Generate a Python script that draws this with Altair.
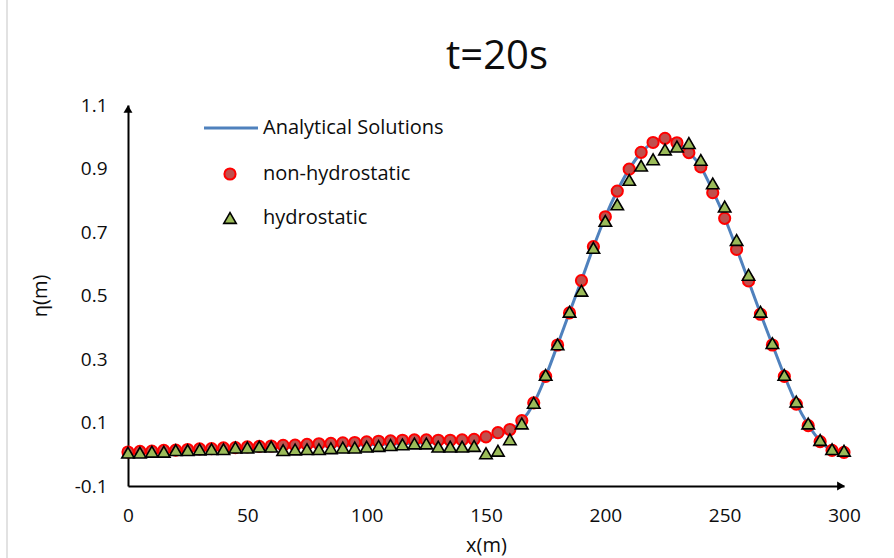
import altair as alt
import pandas as pd

# ---- data ----
x_pts = [0, 5, 10, 15, 20, 25, 30, 35, 40, 45, 50, 55, 60, 65, 70, 75, 80, 85, 90, 95,
         100, 105, 110, 115, 120, 125, 130, 135, 140, 145, 150, 155, 160, 165, 170, 175,
         180, 185, 190, 195, 200, 205, 210, 215, 220, 225, 230, 235, 240, 245, 250, 255,
         260, 265, 270, 275, 280, 285, 290, 295, 300]

non_hydro = [0.007, 0.009, 0.010, 0.012, 0.013, 0.015, 0.017, 0.018, 0.020, 0.021,
             0.023, 0.025, 0.026, 0.028, 0.029, 0.031, 0.033, 0.034, 0.036, 0.037,
             0.039, 0.041, 0.042, 0.044, 0.045, 0.045, 0.044, 0.044, 0.045, 0.047,
             0.055, 0.068, 0.078, 0.106, 0.162, 0.245, 0.344, 0.445, 0.547, 0.654,
             0.748, 0.829, 0.898, 0.951, 0.982, 0.995, 0.981, 0.950, 0.905, 0.824,
             0.743, 0.645, 0.546, 0.441, 0.344, 0.245, 0.158, 0.090, 0.040, 0.012,
             0.006]

hydro = [0.005, 0.005, 0.008, 0.008, 0.013, 0.013, 0.015, 0.016, 0.016, 0.021,
         0.021, 0.024, 0.024, 0.013, 0.015, 0.016, 0.016, 0.019, 0.021, 0.021,
         0.024, 0.026, 0.029, 0.031, 0.034, 0.034, 0.024, 0.024, 0.024, 0.026,
         0.003, 0.011, 0.047, 0.097, 0.162, 0.250, 0.346, 0.449, 0.515, 0.650,
         0.735, 0.787, 0.864, 0.909, 0.929, 0.960, 0.969, 0.980, 0.927, 0.853,
         0.780, 0.675, 0.565, 0.449, 0.350, 0.250, 0.166, 0.097, 0.045, 0.016,
         0.011]

x_line = [0, 20, 40, 60, 80, 100, 120, 140, 150, 155, 160, 165, 170, 175, 180, 185,
          190, 195, 200, 205, 210, 215, 220, 225, 230, 235, 240, 245, 250, 255, 260,
          265, 270, 275, 280, 285, 290, 295, 300]
analytical = [0.005, 0.010, 0.015, 0.020, 0.025, 0.030, 0.035, 0.040, 0.048, 0.060,
              0.075, 0.105, 0.160, 0.245, 0.345, 0.447, 0.548, 0.652, 0.748, 0.830,
              0.898, 0.950, 0.982, 0.995, 0.983, 0.952, 0.905, 0.830, 0.745, 0.648,
              0.546, 0.443, 0.345, 0.248, 0.160, 0.093, 0.042, 0.013, 0.005]

x_ticks = [0, 50, 100, 150, 200, 250, 300]
y_ticks = [-0.1, 0.1, 0.3, 0.5, 0.7, 0.9, 1.1]
legend_labels = ["Analytical Solutions", "non-hydrostatic", "hydrostatic"]
chart_title = "t=20s"

FONT = "Open Sans"
TXT = "#0d0d0d"
W, H = 716, 381

pts = pd.DataFrame({"x": x_pts, "nh": non_hydro, "h": hydro})
line_df = pd.DataFrame({"x": x_line, "y": analytical})

xs = alt.Scale(domain=[0, 300], nice=False, zero=False)
ys = alt.Scale(domain=[-0.1, 1.1], nice=False, zero=False)

x_axis = alt.Axis(values=x_ticks, format="d", grid=False, ticks=False,
                  labelFlush=False,
                  domainColor="black", domainWidth=2, labelFontSize=19,
                  labelPadding=20, labelColor=TXT, labelFont=FONT,
                  title="x(m)", titleFont=FONT, titleFontSize=20,
                  titleFontWeight="normal", titleColor=TXT,
                  titleX=W / 2, titleY=59, titleBaseline="middle", titleAlign="center")
y_axis = alt.Axis(values=y_ticks, grid=False, ticks=False,
                  labelFlush=False,
                  labelExpr="replace(format(datum.value, '.1f'), '\u2212', '-')",
                  domainColor="black", domainWidth=2, labelFontSize=19,
                  labelPadding=21, labelColor=TXT, labelFont=FONT,
                  labelBaseline="middle",
                  title="η(m)", titleFont=FONT, titleFontSize=20,
                  titleFontWeight="normal", titleColor=TXT,
                  titleX=-88, titleY=H / 2, titleAngle=-90,
                  titleBaseline="middle", titleAlign="center")

line = alt.Chart(line_df).mark_line(color="#4F81BD", strokeWidth=3,
                                    interpolate="monotone").encode(
    x=alt.X("x:Q", scale=xs, axis=x_axis),
    y=alt.Y("y:Q", scale=ys, axis=y_axis),
)

circles = alt.Chart(pts).mark_point(shape="circle", filled=True, size=125,
                                    fill="#C0504D", stroke="#FF0000",
                                    strokeWidth=2, opacity=1).encode(
    x=alt.X("x:Q", scale=xs), y=alt.Y("nh:Q", scale=ys))

tris = alt.Chart(pts).mark_point(shape="triangle-up", filled=True, size=155,
                                 fill="#9BBB59", stroke="black",
                                 strokeWidth=1.6, opacity=1).encode(
    x=alt.X("x:Q", scale=xs), y=alt.Y("h:Q", scale=ys))

# axis arrowheads
arrow_df = pd.DataFrame({"x": [0], "y": [1.1], "x2": [300], "y2": [-0.1]})
arrow_up = alt.Chart(arrow_df).mark_point(shape="triangle-up", filled=True,
                                          size=80, color="black", opacity=1,
                                          yOffset=4).encode(
    x=alt.X("x:Q", scale=xs), y=alt.Y("y:Q", scale=ys))
arrow_right = alt.Chart(arrow_df).mark_point(shape="triangle-right", filled=True,
                                             size=80, color="black", opacity=1,
                                             xOffset=-3).encode(
    x=alt.X("x2:Q", scale=xs), y=alt.Y("y2:Q", scale=ys))

# outer frame line on the left (as in the reference picture)
frame = alt.Chart(pd.DataFrame({"a": [0]})).mark_rule(color="#d9d9d9", strokeWidth=1.5).encode(
    x=alt.value(-121), y=alt.value(-105), y2=alt.value(H + 72))

# chart title as a text mark above the plot
title_mark = alt.Chart(pd.DataFrame({"t": [chart_title]})).mark_text(
    align="center", baseline="alphabetic", font=FONT, fontSize=40, color=TXT
).encode(x=alt.value(W / 2 + 11), y=alt.value(-36), text="t:N")

# manual legend (pixel positions inside the plot area)
leg_rows_y = [23, 69, 113]
leg_texts = [
    alt.Chart(pd.DataFrame({"t": [lab]})).mark_text(
        align="left", baseline="middle", font=FONT, fontSize=20, color=TXT
    ).encode(x=alt.value(135), y=alt.value(yy), text="t:N")
    for lab, yy in zip(legend_labels, leg_rows_y)
]
leg_line = alt.Chart(pd.DataFrame({"a": [0]})).mark_rule(color="#4F81BD", strokeWidth=3).encode(
    x=alt.value(76), x2=alt.value(130), y=alt.value(leg_rows_y[0]))
leg_circle = alt.Chart(pd.DataFrame({"a": [0]})).mark_point(
    shape="circle", filled=True, size=125, fill="#C0504D", stroke="#FF0000",
    strokeWidth=2, opacity=1).encode(x=alt.value(102), y=alt.value(leg_rows_y[1]))
leg_tri = alt.Chart(pd.DataFrame({"a": [0]})).mark_point(
    shape="triangle-up", filled=True, size=155, fill="#9BBB59", stroke="black",
    strokeWidth=1.6, opacity=1).encode(x=alt.value(102), y=alt.value(leg_rows_y[2]))

chart = alt.layer(frame, title_mark, line, circles, tris, arrow_up, arrow_right,
                  leg_line, leg_circle, leg_tri, *leg_texts).properties(
    width=W, height=H,
    autosize=alt.AutoSizeParams(type="none"),
    padding={"left": 128, "top": 105, "right": 50, "bottom": 72},
).configure(background="white").configure_view(stroke=None)

chart.save("out.html", embed_options={"renderer": "svg", "actions": False})
